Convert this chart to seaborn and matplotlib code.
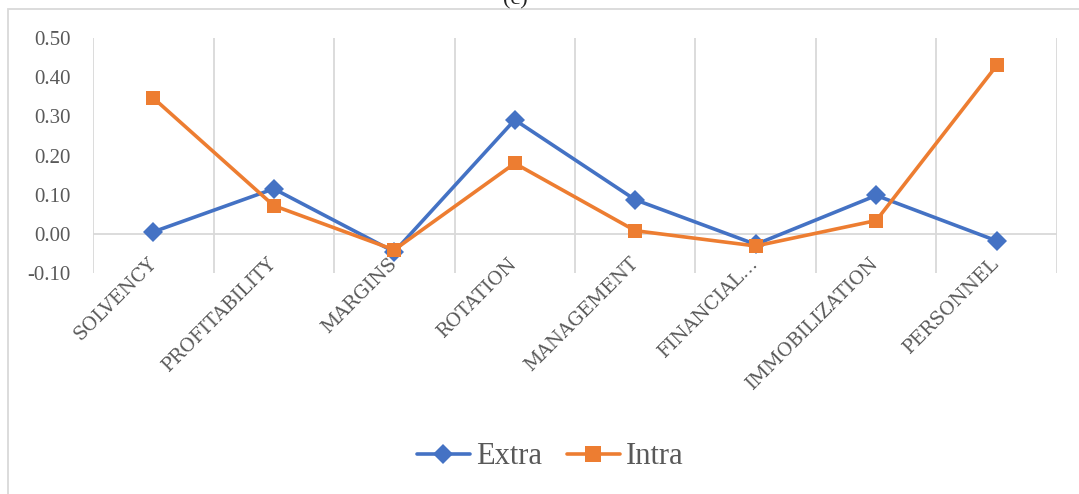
import matplotlib
matplotlib.use("Agg")
import matplotlib.pyplot as plt
from matplotlib.patches import Rectangle
import numpy as np
import pandas as pd
import seaborn as sns

# Indicator groups along the x axis
categories = ["SOLVENCY", "PROFITABILITY", "MARGINS", "ROTATION",
              "MANAGEMENT", "FINANCIAL…", "IMMOBILIZATION", "PERSONNEL"]

# Values per series
extra = [0.005, 0.115, -0.046, 0.291, 0.087, -0.027, 0.098, -0.018]
intra = [0.347, 0.072, -0.041, 0.180, 0.008, -0.031, 0.034, 0.430]

y_ticks = [-0.10, 0.00, 0.10, 0.20, 0.30, 0.40, 0.50]

df = pd.DataFrame({
    "category": categories * 2,
    "value": extra + intra,
    "series": ["Extra"] * len(categories) + ["Intra"] * len(categories),
})

sns.set_theme(style="white")
plt.rcParams["font.family"] = ["Liberation Serif", "DejaVu Serif"]

blue = "#4472C4"
orange = "#ED7D31"
text_grey = "#595959"
grid_grey = "#D9D9D9"

fig = plt.figure(figsize=(10.79, 4.94), dpi=100)
ax = fig.add_axes([0.0862, 0.4474, 0.8934, 0.4756])

sns.lineplot(
    data=df, x="category", y="value", hue="series", style="series",
    palette={"Extra": blue, "Intra": orange},
    markers={"Extra": "D", "Intra": "s"}, dashes=False,
    linewidth=2.6, markersize=10.5, markeredgewidth=0,
    sort=False, ax=ax, legend=False,
)

n = len(categories)
ax.set_xlim(-0.5, n - 0.5)
ax.set_ylim(-0.10, 0.50)
ax.set_yticks(y_ticks)
ax.set_yticklabels([f"{v:.2f}" for v in y_ticks], fontsize=15, color=text_grey)
ax.set_xticks(range(n))
ax.set_xticklabels(categories, rotation=45, ha="right", va="center",
                   rotation_mode="anchor", fontsize=13.5, color=text_grey,
                   family=["DejaVu Serif"], fontweight="light")
ax.tick_params(axis="x", length=0, pad=-9)
ax.tick_params(axis="y", length=0, pad=16)
ax.set_xlabel("")
ax.set_ylabel("")

# Vertical gridlines between categories, horizontal zero line
for xb in np.arange(-0.5, n, 1.0):
    ax.axvline(xb, color=grid_grey, linewidth=1.3, zorder=0)
ax.axhline(0, color=grid_grey, linewidth=1.3, zorder=0)
for s in ax.spines.values():
    s.set_visible(False)
ax.grid(False)

# Legend below the plot
handles = [
    plt.Line2D([], [], color=blue, marker="D", markersize=10.5, linewidth=2.6,
               markeredgewidth=0),
    plt.Line2D([], [], color=orange, marker="s", markersize=11.5, linewidth=2.6,
               markeredgewidth=0),
]
leg = fig.legend(handles, ["Extra", "Intra"], loc="center",
                 bbox_to_anchor=(0.51, 0.075), ncol=2, frameon=False,
                 fontsize=22, handlelength=1.75, handletextpad=0.2,
                 columnspacing=0.8)
for t in leg.get_texts():
    t.set_color(text_grey)

# Panel label and outer frame
fig.text(0.478, 1.0, "(c)", ha="center", va="center", fontsize=16,
         color="#222222")
fig.add_artist(Rectangle((0.0075, -0.02), 1.1, 1.0 - 0.0182 + 0.02,
                         transform=fig.transFigure, fill=False,
                         edgecolor="#D9D9D9", linewidth=1.3, clip_on=False))

fig.savefig("out.png", dpi=100)
